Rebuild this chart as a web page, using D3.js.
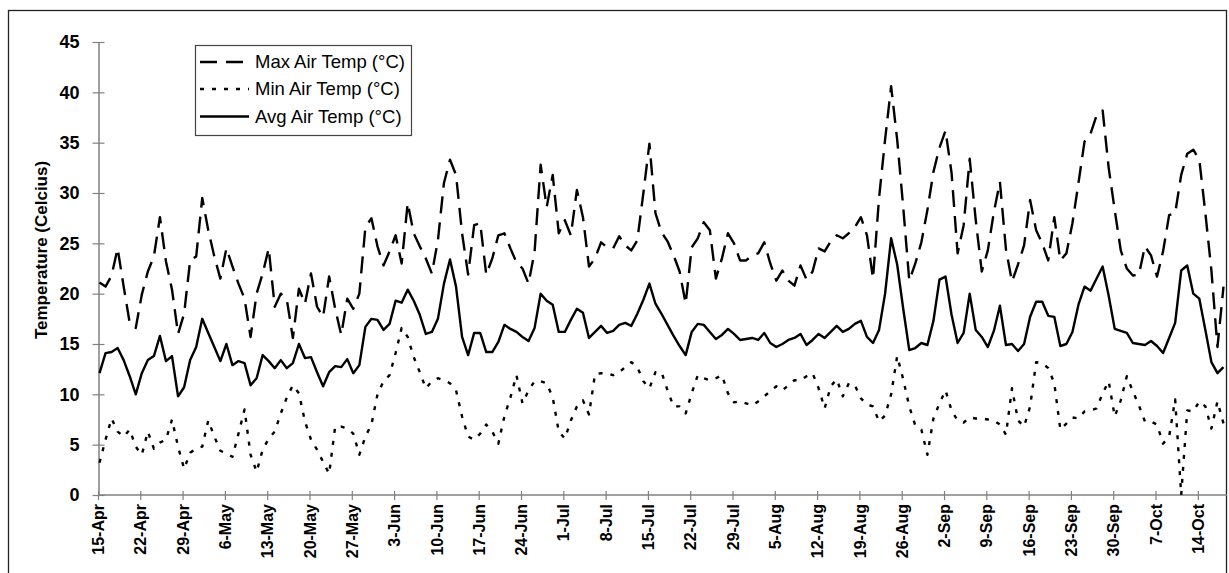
<!DOCTYPE html>
<html>
<head>
<meta charset="utf-8">
<script src="https://d3js.org/d3.v7.min.js"></script>
<style>
  body { margin: 0; background: #fff; }
  text { font-family: "Liberation Sans", Arial, sans-serif; }
  .axis .domain { stroke: #808080; stroke-width: 1.5; }
  .axis .tick line { stroke: #808080; stroke-width: 1.2; }
  .axis .tick text { font-weight: bold; fill: #000; }
</style>
</head>
<body>
<script>
// daily readings from 15-Apr (day 0) to 18-Oct (day 186)
const maxTemp = [
  21.1, 20.7, 21.8, 24.5, 20.7, 17.1, 16.6, 19.9, 22.2, 23.7,
  27.6, 23.2, 20.4, 16.0, 18.0, 23.3, 23.7, 29.5, 26.3, 23.7,
  21.5, 24.5, 22.7, 21.0, 19.5, 15.7, 20.0, 22.0, 24.5, 18.7,
  20.0, 19.4, 15.6, 20.5, 19.0, 22.0, 18.7, 17.7, 21.7, 18.5,
  15.9, 19.5, 18.5, 20.0, 26.6, 27.5, 24.7, 22.8, 24.2, 25.8,
  23.0, 29.0, 26.0, 24.7, 23.5, 22.0, 25.3, 31.0, 33.3, 31.8,
  26.0, 21.9, 26.8, 27.0, 21.9, 23.5, 25.8, 26.0, 24.5, 23.1,
  22.5, 21.0, 24.2, 32.8, 28.6, 31.8, 26.0, 27.3, 25.8, 30.3,
  27.6, 22.7, 23.5, 25.1, 24.6, 24.5, 25.7, 24.8, 24.3, 25.3,
  30.0, 34.9, 28.0, 26.1, 25.2, 23.8, 22.2, 19.0, 24.6, 25.5,
  27.1, 26.3, 21.5, 23.5, 26.0, 25.0, 23.3, 23.3, 23.8, 24.0,
  25.1, 23.0, 21.3, 22.3, 21.3, 20.8, 22.8, 21.4, 22.2, 24.5,
  24.2, 25.2, 25.8, 25.5, 26.0, 26.6, 27.6, 25.8, 21.5, 29.5,
  35.3, 40.6, 35.3, 28.6, 21.3, 23.0, 25.1, 28.3, 32.1, 34.5,
  36.2, 32.0, 24.0, 26.8, 33.4, 27.3, 22.2, 24.3, 28.1, 31.1,
  24.4, 21.2, 22.9, 24.8, 29.3, 26.3, 25.0, 23.3, 27.6, 23.3,
  24.0, 27.0, 31.0, 35.1, 35.9, 37.7, 38.2, 32.5, 28.3, 24.3,
  22.5, 21.8, 21.9, 24.7, 23.8, 21.7, 24.2, 27.8, 28.0, 31.8,
  33.9, 34.3, 33.3, 28.0, 22.3, 14.7, 20.7
];
const minTemp = [
  3.2, 5.5, 7.6, 6.3, 5.8, 6.5, 4.8, 4.0, 6.3, 4.6,
  5.2, 5.5, 7.5, 4.8, 2.6, 4.2, 4.6, 4.8, 7.4, 5.8,
  4.4, 4.1, 3.8, 6.1, 8.5, 4.0, 2.3, 4.5, 5.6, 6.3,
  8.1, 9.7, 10.9, 10.1, 7.3, 5.5, 4.5, 3.3, 2.1, 6.8,
  6.8, 6.6, 6.1, 4.0, 5.8, 7.0, 10.0, 11.3, 11.9, 14.1,
  16.6, 15.7, 13.7, 12.2, 10.6, 11.3, 11.6, 11.4, 11.1, 10.4,
  7.8, 5.8, 5.5, 6.1, 7.0, 6.3, 5.1, 7.8, 9.7, 11.9,
  9.1, 10.4, 11.3, 11.3, 11.1, 9.7, 6.3, 5.6, 7.4, 8.8,
  9.4, 8.0, 12.0, 12.1, 12.1, 11.9, 12.2, 12.7, 13.2, 12.7,
  11.3, 10.6, 12.2, 12.2, 10.4, 8.8, 8.8, 8.1, 10.1, 11.9,
  11.6, 11.4, 11.6, 11.9, 10.1, 9.2, 9.3, 9.1, 8.9, 9.3,
  9.8, 10.3, 10.8, 10.4, 10.9, 11.4, 11.4, 11.8, 12.1, 10.6,
  8.6, 10.8, 11.5, 9.8, 11.1, 10.9, 9.6, 9.0, 8.8, 7.3,
  7.9, 10.0, 13.8, 11.5, 8.8, 6.9, 6.5, 4.0, 7.6, 9.1,
  10.4, 8.4, 7.4, 7.2, 7.7, 7.6, 7.6, 7.5, 7.4, 7.0,
  6.0, 10.6, 7.4, 6.8, 8.8, 13.2, 13.1, 12.6, 11.1, 6.5,
  7.1, 7.7, 7.6, 8.3, 8.4, 8.6, 10.1, 11.3, 7.8, 9.4,
  11.8, 10.3, 8.9, 7.3, 7.3, 7.0, 5.1, 5.8, 9.5, 0.0,
  8.4, 8.3, 9.3, 8.8, 6.6, 9.3, 7.1
];
const avgTemp = [
  12.1, 14.1, 14.2, 14.6, 13.4, 11.8, 10.0, 12.1, 13.4, 13.8,
  15.8, 13.3, 13.8, 9.8, 10.7, 13.4, 14.7, 17.5, 16.1, 14.7,
  13.3, 15.0, 12.9, 13.3, 13.1, 10.9, 11.6, 13.9, 13.3, 12.6,
  13.4, 12.6, 13.1, 15.0, 13.6, 13.7, 12.2, 10.8, 12.2, 12.8,
  12.7, 13.5, 12.1, 12.9, 16.7, 17.5, 17.4, 16.4, 17.0, 19.3,
  19.1, 20.4, 19.3, 17.9, 16.0, 16.2, 17.5, 21.0, 23.4, 20.7,
  15.7, 13.9, 16.1, 16.1, 14.2, 14.2, 15.2, 16.9, 16.5, 16.2,
  15.7, 15.3, 16.6, 20.0, 19.3, 18.9, 16.2, 16.2, 17.4, 18.5,
  18.1, 15.6, 16.2, 16.8, 16.1, 16.3, 16.9, 17.1, 16.8, 18.0,
  19.4, 21.0, 19.0, 18.0, 16.9, 15.8, 14.8, 13.9, 16.2, 17.0,
  16.9, 16.2, 15.5, 15.9, 16.5, 16.0, 15.4, 15.5, 15.6, 15.4,
  16.1, 15.1, 14.7, 15.0, 15.4, 15.6, 16.0, 14.9, 15.4, 16.0,
  15.6, 16.2, 16.8, 16.2, 16.5, 17.0, 17.3, 15.7, 15.1, 16.4,
  20.0, 25.5, 22.9, 18.5, 14.4, 14.6, 15.1, 14.9, 17.3, 21.4,
  21.7, 17.9, 15.1, 16.1, 20.0, 16.4, 15.7, 14.7, 16.3, 18.8,
  14.9, 15.0, 14.3, 15.0, 17.7, 19.2, 19.2, 17.8, 17.7, 14.8,
  15.0, 16.2, 18.9, 20.7, 20.3, 21.5, 22.7, 19.8, 16.5, 16.3,
  16.1, 15.1, 15.0, 14.9, 15.3, 14.8, 14.1, 15.6, 17.1, 22.3,
  22.8, 20.0, 19.5, 16.4, 13.2, 12.1, 12.7
];
const tickLabels = ["15-Apr", "22-Apr", "29-Apr", "6-May", "13-May", "20-May", "27-May",
  "3-Jun", "10-Jun", "17-Jun", "24-Jun", "1-Jul", "8-Jul", "15-Jul", "22-Jul", "29-Jul",
  "5-Aug", "12-Aug", "19-Aug", "26-Aug", "2-Sep", "9-Sep", "16-Sep", "23-Sep", "30-Sep",
  "7-Oct", "14-Oct"];
const yTicks = [0, 5, 10, 15, 20, 25, 30, 35, 40, 45];
const seriesNames = ["Max Air Temp (\u00B0C)", "Min Air Temp (\u00B0C)", "Avg Air Temp (\u00B0C)"];

const width = 1229, height = 573;
const svg = d3.select("body").append("svg")
  .attr("width", width)
  .attr("height", height);

// outer chart frame
svg.append("rect")
  .attr("x", 8.5).attr("y", 10.5)
  .attr("width", 1218).attr("height", 580)
  .attr("fill", "none").attr("stroke", "#222").attr("stroke-width", 1.3);

const xScale = d3.scaleLinear().domain([0, maxTemp.length - 1]).range([99.5, 1223.5]);
const yScale = d3.scaleLinear().domain([0, 45]).range([495, 42]);

// y axis
const yAxis = d3.axisLeft(yScale).tickValues(yTicks).tickSizeInner(6).tickSizeOuter(0).tickPadding(13);
const yG = svg.append("g").attr("class", "axis")
  .attr("transform", "translate(98.5,0)")
  .call(yAxis);
yG.selectAll(".tick line").attr("x1", 6);
yG.selectAll(".tick text").style("font-size", "18px");

// x axis, a tick every 7 days
const tickDays = tickLabels.map((t, i) => i * 7);
const xAxis = d3.axisBottom(xScale).tickValues(tickDays)
  .tickFormat((d, i) => tickLabels[i]).tickSizeInner(5).tickSizeOuter(0);
const xG = svg.append("g").attr("class", "axis")
  .attr("transform", "translate(0,495)")
  .call(xAxis);
xG.select(".domain").attr("d", "M98.5,0H1227");
xG.selectAll(".tick").attr("transform", d => `translate(${xScale(d) - 1},0)`);
xG.selectAll(".tick line").attr("y1", -4);
xG.selectAll(".tick text")
  .style("font-size", "16px")
  .attr("text-anchor", "end")
  .attr("transform", "rotate(-90)")
  .attr("x", -9).attr("y", 0).attr("dy", "0.35em");

// y axis title
svg.append("text")
  .attr("transform", "translate(47,250) rotate(-90)")
  .attr("text-anchor", "middle")
  .style("font-size", "17px").style("font-weight", "bold")
  .text("Temperature (Celcius)");

const line = d3.line()
  .x((d, i) => xScale(i))
  .y(d => yScale(d));

const styles = [
  { data: maxTemp, dash: "17,9" },
  { data: minTemp, dash: "4,8" },
  { data: avgTemp, dash: null }
];

styles.forEach(function(s) {
  svg.append("path")
    .datum(s.data)
    .attr("d", line)
    .attr("fill", "none")
    .attr("stroke", "#000")
    .attr("stroke-width", 2.4)
    .attr("stroke-linejoin", "round")
    .attr("stroke-dasharray", s.dash);
});

// legend
const legend = svg.append("g");
legend.append("rect")
  .attr("x", 195.5).attr("y", 45.5)
  .attr("width", 216).attr("height", 90)
  .attr("fill", "#fff").attr("stroke", "#444").attr("stroke-width", 1.2);
const rowY = [62, 89, 116.5];
seriesNames.forEach(function(name, i) {
  legend.append("line")
    .attr("x1", 200).attr("x2", 249)
    .attr("y1", rowY[i]).attr("y2", rowY[i])
    .attr("stroke", "#000").attr("stroke-width", 2.4)
    .attr("stroke-dasharray", styles[i].dash);
  legend.append("text")
    .attr("x", 255).attr("y", rowY[i]).attr("dy", "0.35em")
    .style("font-size", "18.5px")
    .text(name);
});
</script>
</body>
</html>
